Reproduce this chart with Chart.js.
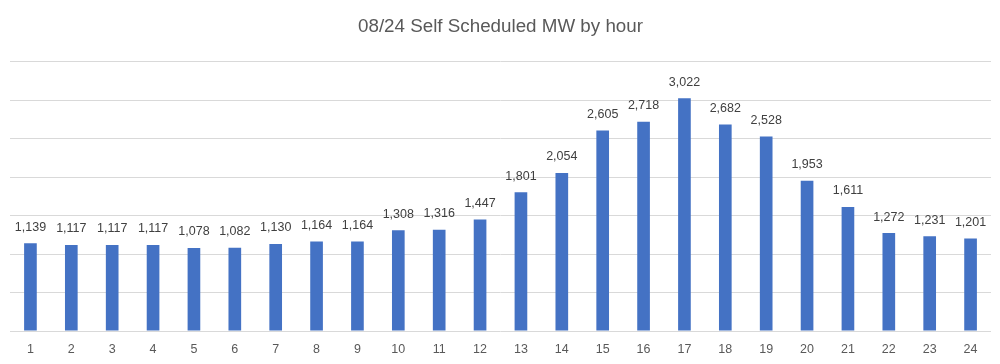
<!DOCTYPE html>
<html>
<head>
<meta charset="utf-8">
<script src="https://cdn.jsdelivr.net/npm/chart.js@4"></script>
<style>
html,body{margin:0;padding:0;background:#fff;}
#wrap{width:1000px;height:364px;position:relative;}
</style>
</head>
<body>
<div id="wrap"><canvas id="c"></canvas></div>
<script>
const hours = ['1','2','3','4','5','6','7','8','9','10','11','12','13','14','15','16','17','18','19','20','21','22','23','24'];
const selfScheduledMW = [1139,1117,1117,1117,1078,1082,1130,1164,1164,1308,1316,1447,1801,2054,2605,2718,3022,2682,2528,1953,1611,1272,1231,1201];
const chartTitle = '08/24 Self Scheduled MW by hour';

const FONT = "'Liberation Sans', Arial, sans-serif";

const valueLabels = {
  id: 'valueLabels',
  afterDatasetsDraw(chart) {
    const ctx = chart.ctx;
    const meta = chart.getDatasetMeta(0);
    ctx.save();
    ctx.font = "12.5px " + FONT;
    ctx.fillStyle = '#404040';
    ctx.textAlign = 'center';
    ctx.textBaseline = 'middle';
    meta.data.forEach((bar, i) => {
      const v = chart.data.datasets[0].data[i];
      ctx.fillText(v.toLocaleString('en-US'), bar.x, bar.y - 16);
    });
    ctx.restore();
  }
};

new Chart(document.getElementById('c'), {
  type: 'bar',
  data: {
    labels: hours,
    datasets: [{
      data: selfScheduledMW,
      backgroundColor: '#4472C4',
      barPercentage: 0.31,
      categoryPercentage: 1.0
    }]
  },
  options: {
    responsive: true,
    maintainAspectRatio: false,
    animation: false,
    layout: { padding: { left: 10, right: 9, top: 0, bottom: -4 } },
    plugins: {
      legend: { display: false },
      tooltip: { enabled: false },
      title: {
        display: true,
        text: chartTitle,
        color: '#595959',
        font: { family: FONT, size: 18.8, weight: 'normal' },
        padding: { top: 16, bottom: 23 }
      }
    },
    scales: {
      x: {
        grid: { display: false, drawTicks: false },
        border: { display: false },
        ticks: { color: '#595959', font: { family: FONT, size: 12.5 }, padding: 11 }
      },
      y: {
        min: 0, max: 3500,
        ticks: { stepSize: 500, display: false },
        grid: { color: '#d9d9d9', lineWidth: 1, drawTicks: false },
        border: { display: false }
      }
    }
  },
  plugins: [valueLabels]
});
</script>
</body>
</html>
